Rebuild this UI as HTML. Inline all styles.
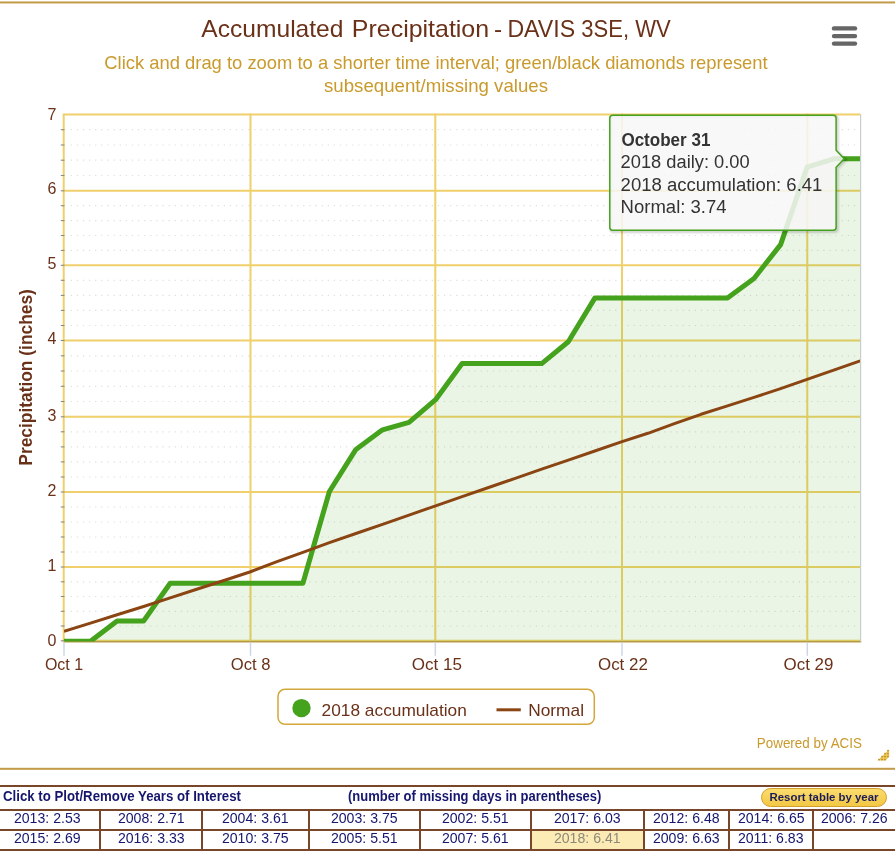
<!DOCTYPE html><html><head><meta charset="utf-8"><title>Accumulated Precipitation - DAVIS 3SE, WV</title>
<style>
html,body{margin:0;padding:0;background:#fff;}
body{width:895px;height:855px;overflow:hidden;position:relative;font-family:"Liberation Sans",sans-serif;}
#chart{position:absolute;left:0;top:0;will-change:transform;}
svg text{font-family:"Liberation Sans",sans-serif;}
#yrs{will-change:transform;position:absolute;left:-6px;top:785px;border-collapse:collapse;font-family:"Liberation Sans",sans-serif;table-layout:fixed;width:901px;}
#yrs td{border:2px solid #7a4629;padding:0;height:18px;line-height:18px;font-size:14px;color:#16166e;text-align:center;white-space:nowrap;overflow:visible;vertical-align:top;}
#yrs td span{display:inline-block;transform:scaleX(0.973);position:relative;top:-1.6px;font-size:14.5px;}
#yrs tr.hdr td{border-left:none;border-right:none;height:22px;font-weight:bold;font-size:14px;position:relative;}
#yrs tr.hdr td span{position:absolute;top:-0.3px;transform-origin:0 50%;font-size:14px;}
#yrs td.sel{background:#fdebb6;color:#8c8a78;}
#yrs .btn{left:766px;top:1.4px !important;width:124px;height:17px;border:1px solid #d2a12a;border-radius:10px;background:linear-gradient(#fbdc6e,#f2c845);font-size:11.4px !important;line-height:16.6px;text-align:center;color:#1b1b5c;transform:none !important;}
</style></head><body>
<svg id="chart" width="895" height="855" viewBox="0 0 895 855">
<defs><clipPath id="pc"><rect x="64" y="113.4" width="796.6" height="528.1"/></clipPath></defs>
<rect x="0" y="1.45" width="895" height="2" fill="#c29a48"/>
<text x="201.3" y="36.8" font-size="24" fill="#6a3119" textLength="142.18" lengthAdjust="spacingAndGlyphs">Accumulated</text>
<text x="351.86" y="36.8" font-size="24" fill="#6a3119" textLength="137.24" lengthAdjust="spacingAndGlyphs">Precipitation</text>
<text x="493.98" y="36.8" font-size="24" fill="#6a3119" textLength="8.13" lengthAdjust="spacingAndGlyphs">-</text>
<text x="507.44" y="36.8" font-size="24" fill="#6a3119" textLength="67.63" lengthAdjust="spacingAndGlyphs">DAVIS</text>
<text x="581.3" y="36.8" font-size="24" fill="#6a3119" textLength="89.4" lengthAdjust="spacingAndGlyphs">3SE, WV</text>
<text x="436" y="68.8" text-anchor="middle" font-size="18.4" fill="#c99a2c" textLength="663.4" lengthAdjust="spacingAndGlyphs">Click and drag to zoom to a shorter time interval; green/black diamonds represent</text>
<text x="436" y="92.1" text-anchor="middle" font-size="18.4" fill="#c99a2c" textLength="224" lengthAdjust="spacingAndGlyphs">subsequent/missing values</text>
<line x1="834" y1="28.4" x2="855" y2="28.4" stroke="#666" stroke-width="4.4" stroke-linecap="round"/>
<line x1="834" y1="36.1" x2="855" y2="36.1" stroke="#666" stroke-width="4.4" stroke-linecap="round"/>
<line x1="834" y1="43.6" x2="855" y2="43.6" stroke="#666" stroke-width="4.4" stroke-linecap="round"/>
<line x1="70.7" y1="626.0" x2="856.6" y2="626.0" stroke="#dedede" stroke-width="1.2" stroke-dasharray="1.2,4.919"/>
<line x1="70.7" y1="611.3" x2="856.6" y2="611.3" stroke="#dedede" stroke-width="1.2" stroke-dasharray="1.2,4.919"/>
<line x1="70.7" y1="596.5" x2="856.6" y2="596.5" stroke="#dedede" stroke-width="1.2" stroke-dasharray="1.2,4.919"/>
<line x1="70.7" y1="581.8" x2="856.6" y2="581.8" stroke="#dedede" stroke-width="1.2" stroke-dasharray="1.2,4.919"/>
<line x1="70.7" y1="552.0" x2="856.6" y2="552.0" stroke="#dedede" stroke-width="1.2" stroke-dasharray="1.2,4.919"/>
<line x1="70.7" y1="537.0" x2="856.6" y2="537.0" stroke="#dedede" stroke-width="1.2" stroke-dasharray="1.2,4.919"/>
<line x1="70.7" y1="522.0" x2="856.6" y2="522.0" stroke="#dedede" stroke-width="1.2" stroke-dasharray="1.2,4.919"/>
<line x1="70.7" y1="507.0" x2="856.6" y2="507.0" stroke="#dedede" stroke-width="1.2" stroke-dasharray="1.2,4.919"/>
<line x1="70.7" y1="477.0" x2="856.6" y2="477.0" stroke="#dedede" stroke-width="1.2" stroke-dasharray="1.2,4.919"/>
<line x1="70.7" y1="461.9" x2="856.6" y2="461.9" stroke="#dedede" stroke-width="1.2" stroke-dasharray="1.2,4.919"/>
<line x1="70.7" y1="446.9" x2="856.6" y2="446.9" stroke="#dedede" stroke-width="1.2" stroke-dasharray="1.2,4.919"/>
<line x1="70.7" y1="431.8" x2="856.6" y2="431.8" stroke="#dedede" stroke-width="1.2" stroke-dasharray="1.2,4.919"/>
<line x1="70.7" y1="401.5" x2="856.6" y2="401.5" stroke="#dedede" stroke-width="1.2" stroke-dasharray="1.2,4.919"/>
<line x1="70.7" y1="386.3" x2="856.6" y2="386.3" stroke="#dedede" stroke-width="1.2" stroke-dasharray="1.2,4.919"/>
<line x1="70.7" y1="371.0" x2="856.6" y2="371.0" stroke="#dedede" stroke-width="1.2" stroke-dasharray="1.2,4.919"/>
<line x1="70.7" y1="355.8" x2="856.6" y2="355.8" stroke="#dedede" stroke-width="1.2" stroke-dasharray="1.2,4.919"/>
<line x1="70.7" y1="325.5" x2="856.6" y2="325.5" stroke="#dedede" stroke-width="1.2" stroke-dasharray="1.2,4.919"/>
<line x1="70.7" y1="310.4" x2="856.6" y2="310.4" stroke="#dedede" stroke-width="1.2" stroke-dasharray="1.2,4.919"/>
<line x1="70.7" y1="295.4" x2="856.6" y2="295.4" stroke="#dedede" stroke-width="1.2" stroke-dasharray="1.2,4.919"/>
<line x1="70.7" y1="280.3" x2="856.6" y2="280.3" stroke="#dedede" stroke-width="1.2" stroke-dasharray="1.2,4.919"/>
<line x1="70.7" y1="250.4" x2="856.6" y2="250.4" stroke="#dedede" stroke-width="1.2" stroke-dasharray="1.2,4.919"/>
<line x1="70.7" y1="235.5" x2="856.6" y2="235.5" stroke="#dedede" stroke-width="1.2" stroke-dasharray="1.2,4.919"/>
<line x1="70.7" y1="220.6" x2="856.6" y2="220.6" stroke="#dedede" stroke-width="1.2" stroke-dasharray="1.2,4.919"/>
<line x1="70.7" y1="205.7" x2="856.6" y2="205.7" stroke="#dedede" stroke-width="1.2" stroke-dasharray="1.2,4.919"/>
<line x1="70.7" y1="175.5" x2="856.6" y2="175.5" stroke="#dedede" stroke-width="1.2" stroke-dasharray="1.2,4.919"/>
<line x1="70.7" y1="160.2" x2="856.6" y2="160.2" stroke="#dedede" stroke-width="1.2" stroke-dasharray="1.2,4.919"/>
<line x1="70.7" y1="145.0" x2="856.6" y2="145.0" stroke="#dedede" stroke-width="1.2" stroke-dasharray="1.2,4.919"/>
<line x1="70.7" y1="129.7" x2="856.6" y2="129.7" stroke="#dedede" stroke-width="1.2" stroke-dasharray="1.2,4.919"/>
<line x1="64" y1="640.8" x2="860.6" y2="640.8" stroke="#efd06a" stroke-width="2"/>
<line x1="64" y1="567.0" x2="860.6" y2="567.0" stroke="#efd06a" stroke-width="2"/>
<line x1="64" y1="492.0" x2="860.6" y2="492.0" stroke="#efd06a" stroke-width="2"/>
<line x1="64" y1="416.8" x2="860.6" y2="416.8" stroke="#efd06a" stroke-width="2"/>
<line x1="64" y1="340.5" x2="860.6" y2="340.5" stroke="#efd06a" stroke-width="2"/>
<line x1="64" y1="265.3" x2="860.6" y2="265.3" stroke="#efd06a" stroke-width="2"/>
<line x1="64" y1="190.8" x2="860.6" y2="190.8" stroke="#efd06a" stroke-width="2"/>
<line x1="64" y1="114.4" x2="860.6" y2="114.4" stroke="#efd06a" stroke-width="2"/>
<line x1="250.5" y1="113.4" x2="250.5" y2="641.5" stroke="#efd06a" stroke-width="2"/>
<line x1="435.3" y1="113.4" x2="435.3" y2="641.5" stroke="#efd06a" stroke-width="2"/>
<line x1="622.0" y1="113.4" x2="622.0" y2="641.5" stroke="#efd06a" stroke-width="2"/>
<line x1="807.3" y1="113.4" x2="807.3" y2="641.5" stroke="#efd06a" stroke-width="2"/>
<g clip-path="url(#pc)">
<polygon points="64.0,641.5 64.0,641.3 90.5,641.3 117.1,621.0 143.6,621.0 170.2,583.3 196.7,583.3 223.2,583.3 249.8,583.3 276.3,583.3 302.9,583.3 329.4,491.5 355.9,449.4 382.5,429.8 409.0,422.3 435.6,399.7 462.1,363.6 488.6,363.6 515.2,363.6 541.7,363.6 568.3,341.7 594.8,298.1 621.3,298.1 647.9,298.1 674.4,298.1 701.0,298.1 727.5,298.1 754.0,278.5 780.6,244.6 807.1,167.1 833.7,158.8 860.2,158.8 860.2,641.5" fill="#44a21c" fill-opacity="0.11"/>
</g>
<line x1="64" y1="641.8" x2="861.3" y2="641.8" stroke="#b59a4a" stroke-width="1.6"/>
<line x1="63.7" y1="113.4" x2="63.7" y2="642.5" stroke="#efd06a" stroke-width="2"/>
<line x1="60.8" y1="640.8" x2="64.5" y2="640.8" stroke="#8a8a8a" stroke-width="1.1"/>
<line x1="60.8" y1="626.0" x2="64.5" y2="626.0" stroke="#8a8a8a" stroke-width="1.1"/>
<line x1="60.8" y1="611.3" x2="64.5" y2="611.3" stroke="#8a8a8a" stroke-width="1.1"/>
<line x1="60.8" y1="596.5" x2="64.5" y2="596.5" stroke="#8a8a8a" stroke-width="1.1"/>
<line x1="60.8" y1="581.8" x2="64.5" y2="581.8" stroke="#8a8a8a" stroke-width="1.1"/>
<line x1="60.8" y1="567.0" x2="64.5" y2="567.0" stroke="#8a8a8a" stroke-width="1.1"/>
<line x1="60.8" y1="552.0" x2="64.5" y2="552.0" stroke="#8a8a8a" stroke-width="1.1"/>
<line x1="60.8" y1="537.0" x2="64.5" y2="537.0" stroke="#8a8a8a" stroke-width="1.1"/>
<line x1="60.8" y1="522.0" x2="64.5" y2="522.0" stroke="#8a8a8a" stroke-width="1.1"/>
<line x1="60.8" y1="507.0" x2="64.5" y2="507.0" stroke="#8a8a8a" stroke-width="1.1"/>
<line x1="60.8" y1="492.0" x2="64.5" y2="492.0" stroke="#8a8a8a" stroke-width="1.1"/>
<line x1="60.8" y1="477.0" x2="64.5" y2="477.0" stroke="#8a8a8a" stroke-width="1.1"/>
<line x1="60.8" y1="461.9" x2="64.5" y2="461.9" stroke="#8a8a8a" stroke-width="1.1"/>
<line x1="60.8" y1="446.9" x2="64.5" y2="446.9" stroke="#8a8a8a" stroke-width="1.1"/>
<line x1="60.8" y1="431.8" x2="64.5" y2="431.8" stroke="#8a8a8a" stroke-width="1.1"/>
<line x1="60.8" y1="416.8" x2="64.5" y2="416.8" stroke="#8a8a8a" stroke-width="1.1"/>
<line x1="60.8" y1="401.5" x2="64.5" y2="401.5" stroke="#8a8a8a" stroke-width="1.1"/>
<line x1="60.8" y1="386.3" x2="64.5" y2="386.3" stroke="#8a8a8a" stroke-width="1.1"/>
<line x1="60.8" y1="371.0" x2="64.5" y2="371.0" stroke="#8a8a8a" stroke-width="1.1"/>
<line x1="60.8" y1="355.8" x2="64.5" y2="355.8" stroke="#8a8a8a" stroke-width="1.1"/>
<line x1="60.8" y1="340.5" x2="64.5" y2="340.5" stroke="#8a8a8a" stroke-width="1.1"/>
<line x1="60.8" y1="325.5" x2="64.5" y2="325.5" stroke="#8a8a8a" stroke-width="1.1"/>
<line x1="60.8" y1="310.4" x2="64.5" y2="310.4" stroke="#8a8a8a" stroke-width="1.1"/>
<line x1="60.8" y1="295.4" x2="64.5" y2="295.4" stroke="#8a8a8a" stroke-width="1.1"/>
<line x1="60.8" y1="280.3" x2="64.5" y2="280.3" stroke="#8a8a8a" stroke-width="1.1"/>
<line x1="60.8" y1="265.3" x2="64.5" y2="265.3" stroke="#8a8a8a" stroke-width="1.1"/>
<line x1="60.8" y1="250.4" x2="64.5" y2="250.4" stroke="#8a8a8a" stroke-width="1.1"/>
<line x1="60.8" y1="235.5" x2="64.5" y2="235.5" stroke="#8a8a8a" stroke-width="1.1"/>
<line x1="60.8" y1="220.6" x2="64.5" y2="220.6" stroke="#8a8a8a" stroke-width="1.1"/>
<line x1="60.8" y1="205.7" x2="64.5" y2="205.7" stroke="#8a8a8a" stroke-width="1.1"/>
<line x1="60.8" y1="190.8" x2="64.5" y2="190.8" stroke="#8a8a8a" stroke-width="1.1"/>
<line x1="60.8" y1="175.5" x2="64.5" y2="175.5" stroke="#8a8a8a" stroke-width="1.1"/>
<line x1="60.8" y1="160.2" x2="64.5" y2="160.2" stroke="#8a8a8a" stroke-width="1.1"/>
<line x1="60.8" y1="145.0" x2="64.5" y2="145.0" stroke="#8a8a8a" stroke-width="1.1"/>
<line x1="60.8" y1="129.7" x2="64.5" y2="129.7" stroke="#8a8a8a" stroke-width="1.1"/>
<line x1="64" y1="642.6" x2="64" y2="655.8" stroke="#ccd6eb" stroke-width="1.5"/>
<line x1="250.5" y1="642.6" x2="250.5" y2="655.8" stroke="#ccd6eb" stroke-width="1.5"/>
<line x1="435.3" y1="642.6" x2="435.3" y2="655.8" stroke="#ccd6eb" stroke-width="1.5"/>
<line x1="622.0" y1="642.6" x2="622.0" y2="655.8" stroke="#ccd6eb" stroke-width="1.5"/>
<line x1="807.3" y1="642.6" x2="807.3" y2="655.8" stroke="#ccd6eb" stroke-width="1.5"/>
<text x="56.3" y="646.0" text-anchor="end" font-size="16" fill="#6a3119">0</text>
<text x="56.3" y="570.8" text-anchor="end" font-size="16" fill="#6a3119">1</text>
<text x="56.3" y="495.7" text-anchor="end" font-size="16" fill="#6a3119">2</text>
<text x="56.3" y="420.6" text-anchor="end" font-size="16" fill="#6a3119">3</text>
<text x="56.3" y="343.7" text-anchor="end" font-size="16" fill="#6a3119">4</text>
<text x="56.3" y="268.6" text-anchor="end" font-size="16" fill="#6a3119">5</text>
<text x="56.3" y="193.6" text-anchor="end" font-size="16" fill="#6a3119">6</text>
<text x="56.3" y="120.2" text-anchor="end" font-size="16" fill="#6a3119">7</text>
<text x="64" y="670" text-anchor="middle" font-size="16" fill="#6a3119" textLength="38.2" lengthAdjust="spacingAndGlyphs">Oct 1</text>
<text x="250.6" y="670" text-anchor="middle" font-size="16" fill="#6a3119" textLength="39.6" lengthAdjust="spacingAndGlyphs">Oct 8</text>
<text x="436.9" y="670" text-anchor="middle" font-size="16" fill="#6a3119" textLength="50.1" lengthAdjust="spacingAndGlyphs">Oct 15</text>
<text x="622.9" y="670" text-anchor="middle" font-size="16" fill="#6a3119" textLength="49.8" lengthAdjust="spacingAndGlyphs">Oct 22</text>
<text x="808.5" y="670" text-anchor="middle" font-size="16" fill="#6a3119" textLength="49.8" lengthAdjust="spacingAndGlyphs">Oct 29</text>
<text transform="translate(32,377.4) rotate(-90)" x="0" y="0" text-anchor="middle" font-size="18.2" font-weight="bold" fill="#6a3119" textLength="176.5" lengthAdjust="spacingAndGlyphs">Precipitation (inches)</text>
<g clip-path="url(#pc)">
<polyline points="64.0,641.3 90.5,641.3 117.1,621.0 143.6,621.0 170.2,583.3 196.7,583.3 223.2,583.3 249.8,583.3 276.3,583.3 302.9,583.3 329.4,491.5 355.9,449.4 382.5,429.8 409.0,422.3 435.6,399.7 462.1,363.6 488.6,363.6 515.2,363.6 541.7,363.6 568.3,341.7 594.8,298.1 621.3,298.1 647.9,298.1 674.4,298.1 701.0,298.1 727.5,298.1 754.0,278.5 780.6,244.6 807.1,167.1 833.7,158.8 860.2,158.8" fill="none" stroke="#44a21c" stroke-width="5" stroke-linejoin="round" stroke-linecap="round"/>
<polyline points="64.0,631.2 90.5,623.1 117.1,614.8 143.6,606.5 170.2,597.9 196.7,589.3 223.2,580.7 249.8,572.0 276.3,561.9 302.9,552.3 329.4,542.6 355.9,533.5 382.5,524.3 409.0,515.1 435.6,505.8 462.1,496.7 488.6,487.5 515.2,478.3 541.7,469.2 568.3,460.1 594.8,451.0 621.3,441.9 647.9,433.3 674.4,423.6 701.0,414.3 727.5,405.9 754.0,397.4 780.6,388.6 807.1,379.3 833.7,370.1 860.2,360.9" fill="none" stroke="#8b4513" stroke-width="3" stroke-linejoin="round"/>
</g>
<line x1="860.6" y1="114.4" x2="860.6" y2="641.5" stroke="#c8cccc" stroke-width="1.2"/>
<path d="M612.8,115.3 L833.1,115.3 Q836.1,115.3 836.1,118.3 L836.1,150.3 L844.2,158.8 L836.1,167.3 L836.1,227.2 Q836.1,230.2 833.1,230.2 L612.8,230.2 Q609.8,230.2 609.8,227.2 L609.8,118.3 Q609.8,115.3 612.8,115.3 Z" transform="translate(1.5,1.5)" fill="none" stroke="#000" stroke-opacity="0.05" stroke-width="5"/>
<path d="M612.8,115.3 L833.1,115.3 Q836.1,115.3 836.1,118.3 L836.1,150.3 L844.2,158.8 L836.1,167.3 L836.1,227.2 Q836.1,230.2 833.1,230.2 L612.8,230.2 Q609.8,230.2 609.8,227.2 L609.8,118.3 Q609.8,115.3 612.8,115.3 Z" transform="translate(1,1)" fill="none" stroke="#000" stroke-opacity="0.1" stroke-width="3"/>
<path d="M612.8,115.3 L833.1,115.3 Q836.1,115.3 836.1,118.3 L836.1,150.3 L844.2,158.8 L836.1,167.3 L836.1,227.2 Q836.1,230.2 833.1,230.2 L612.8,230.2 Q609.8,230.2 609.8,227.2 L609.8,118.3 Q609.8,115.3 612.8,115.3 Z" fill="#f7f7f7" fill-opacity="0.86" stroke="#44a21c" stroke-width="1.5"/>
<text x="621.4" y="145.9" font-size="17.6" font-weight="bold" fill="#333" textLength="89" lengthAdjust="spacingAndGlyphs">October 31</text>
<text x="620.6" y="167.8" font-size="18" fill="#333" textLength="129" lengthAdjust="spacingAndGlyphs">2018 daily: 0.00</text>
<text x="620.6" y="190.5" font-size="18" fill="#333" textLength="201.8" lengthAdjust="spacingAndGlyphs">2018 accumulation: 6.41</text>
<text x="620.6" y="213.3" font-size="18" fill="#333" textLength="106" lengthAdjust="spacingAndGlyphs">Normal: 3.74</text>
<rect x="278" y="689.3" width="316.3" height="35" rx="7" ry="7" fill="#fff" stroke="#d4a73c" stroke-width="1.5"/>
<circle cx="301.5" cy="708.1" r="9.2" fill="#44a21c"/>
<text x="321.6" y="715.7" font-size="17" fill="#6a3119" textLength="145.2" lengthAdjust="spacingAndGlyphs">2018 accumulation</text>
<line x1="496.5" y1="709.8" x2="520.8" y2="709.8" stroke="#8b4513" stroke-width="3"/>
<text x="528.2" y="715.7" font-size="17" fill="#6a3119" textLength="55.8" lengthAdjust="spacingAndGlyphs">Normal</text>
<text x="862" y="747.5" text-anchor="end" font-size="14.4" fill="#c99a2c" textLength="105.2" lengthAdjust="spacingAndGlyphs">Powered by ACIS</text>
<polygon points="877.6,760.4 889.2,749.2 889.2,756.6 885.6,760.4" fill="#efc654"/>
<circle cx="879" cy="759.6" r="0.9" fill="#b8902e"/>
<circle cx="882" cy="759.6" r="0.9" fill="#b8902e"/>
<circle cx="885" cy="759.6" r="0.9" fill="#b8902e"/>
<circle cx="882" cy="756.6" r="0.9" fill="#b8902e"/>
<circle cx="885" cy="756.6" r="0.9" fill="#b8902e"/>
<circle cx="888" cy="756.6" r="0.9" fill="#b8902e"/>
<circle cx="885" cy="753.6" r="0.9" fill="#b8902e"/>
<circle cx="888" cy="753.6" r="0.9" fill="#b8902e"/>
<circle cx="888" cy="750.6" r="0.9" fill="#b8902e"/>
<rect x="0" y="767.8" width="895" height="2" fill="#c29a48"/>
</svg>
<table id="yrs">
<colgroup><col style="width:105px"><col style="width:102px"><col style="width:107px"><col style="width:111px"><col style="width:111px"><col style="width:113px"><col style="width:85px"><col style="width:84px"><col style="width:83px"></colgroup>
<tr class="hdr"><td colspan="9"><span style="left:8.1px;transform:scaleX(0.945)">Click to Plot/Remove Years of Interest</span><span style="left:353.2px;transform:scaleX(0.928)">(number of missing days in parentheses)</span><span class="btn">Resort table by year</span></td></tr>
<tr><td><span>2013: 2.53</span></td><td><span>2008: 2.71</span></td><td><span>2004: 3.61</span></td><td><span>2003: 3.75</span></td><td><span>2002: 5.51</span></td><td><span>2017: 6.03</span></td><td><span>2012: 6.48</span></td><td><span>2014: 6.65</span></td><td><span>2006: 7.26</span></td></tr>
<tr><td><span>2015: 2.69</span></td><td><span>2016: 3.33</span></td><td><span>2010: 3.75</span></td><td><span>2005: 5.51</span></td><td><span>2007: 5.61</span></td><td class="sel"><span>2018: 6.41</span></td><td><span>2009: 6.63</span></td><td><span>2011: 6.83</span></td><td></td></tr>
</table>
</body></html>
